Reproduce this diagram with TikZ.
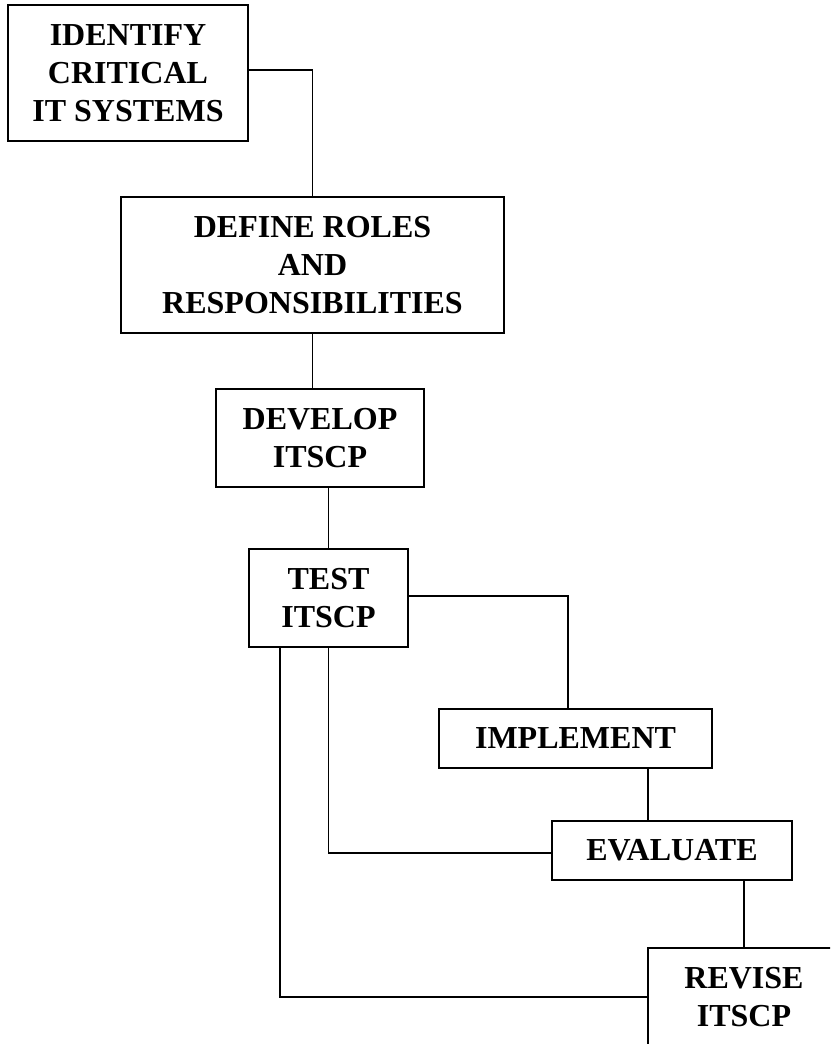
\documentclass[tikz,border=0pt]{standalone}
\usepackage{fontspec}
\setmainfont{Liberation Serif}
\usetikzlibrary{calc}
\tikzset{
  stepbox/.style={draw=black, line width=1.8pt, fill=white, align=center, inner sep=0pt,
    font=\fontsize{32}{38}\selectfont\bfseries},
  link/.style={draw=black, line width=1.8pt}
}
\begin{document}
\begin{tikzpicture}[x=1pt,y=-1pt]
\useasboundingbox (0,0) rectangle (830,1044);
\clip (0,0) rectangle (830,1044);
\node[stepbox, minimum width=240pt, minimum height=136pt] (n1) at (128,73) {IDENTIFY\\CRITICAL\\IT SYSTEMS};
\node[stepbox, minimum width=383pt, minimum height=136pt] (n2) at (312.5,265) {DEFINE ROLES\\AND\\RESPONSIBILITIES};
\node[stepbox, minimum width=208pt, minimum height=98pt] (n3) at (320,438) {DEVELOP\\ITSCP};
\node[stepbox, minimum width=159pt, minimum height=98pt] (n4) at (328.5,598) {TEST\\ITSCP};
\node[stepbox, minimum width=273pt, minimum height=59pt] (n5) at (575.5,738.5) {IMPLEMENT};
\node[stepbox, minimum width=240pt, minimum height=59pt] (n6) at (672,850.5) {EVALUATE};
\node[stepbox, minimum width=192pt, minimum height=98pt] (n7) at (744,997) {REVISE\\ITSCP};
\coordinate (c45) at ($(n5.north)+(-7.5,0)$);
\coordinate (c56) at ($(n5.south)+(72.5,0)$);
\coordinate (c74) at ($(n4.south)+(-48.5,0)$);
\draw[link] ([yshift=3pt]n1.east) -| (n2.north);
\draw[link] (n2.south) -- (n2.south |- n3.north);
\draw[link] (n4.north) -- (n4.north |- n3.south);
\draw[link] ([yshift=2pt]n4.east) -| (c45);
\draw[link] (c56) -- (c56 |- n6.north);
\draw[link] ([yshift=-2.5pt]n6.west) -| (n4.south);
\draw[link] (n7.north) -- (n7.north |- n6.south);
\draw[link] (n7.west) -| (c74);
\end{tikzpicture}
\end{document}
